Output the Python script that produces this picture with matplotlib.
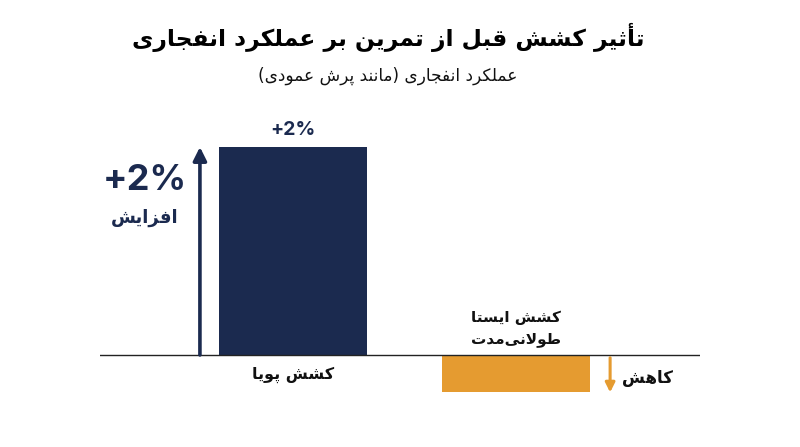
import unicodedata
import matplotlib
matplotlib.use("Agg")
import matplotlib.pyplot as plt

# ---------------- data ----------------
categories = ["کشش پویا", "کشش ایستا\nطولانی‌مدت"]
values = [2.0, -0.36]
value_labels = ["+2%", ""]
title = "تأثیر کشش قبل از تمرین بر عملکرد انفجاری"
subtitle = "عملکرد انفجاری (مانند پرش عمودی)"
increase_value = "+2%"
increase_label = "افزایش"
decrease_label = "کاهش"

NAVY = "#1b2a4f"
ORANGE = "#e59b30"

# ---------------- minimal Arabic/Persian shaping ----------------
RIGHT_JOIN = set("اأإآدذرزژوؤةۀ")


def jtype(c):
    if c in RIGHT_JOIN:
        return "R"
    if "\u0620" <= c <= "\u06FF":
        try:
            unicodedata.lookup(unicodedata.name(c) + " INITIAL FORM")
            return "D"
        except (KeyError, ValueError):
            return "U"
    return "U"


def form(c, f):
    try:
        return unicodedata.lookup(unicodedata.name(c) + " " + f + " FORM")
    except (KeyError, ValueError):
        return c


ALEFS = {"ا": "ALEF", "أ": "ALEF WITH HAMZA ABOVE",
         "إ": "ALEF WITH HAMZA BELOW", "آ": "ALEF WITH MADDA ABOVE"}


def shape_line(s):
    chars = list(s)
    n = len(chars)
    out = []
    i = 0
    while i < n:
        c = chars[i]
        t = jtype(c)
        prev = chars[i - 1] if i > 0 else None
        jp = t in "RD" and prev is not None and jtype(prev) == "D"
        if c == "ل" and i + 1 < n and chars[i + 1] in ALEFS:
            nm = ALEFS[chars[i + 1]]
            out.append(unicodedata.lookup(
                "ARABIC LIGATURE LAM WITH %s %s FORM" % (nm, "FINAL" if jp else "ISOLATED")))
            i += 2
            continue
        if t == "U":
            if c != "\u200c":
                out.append(c)
            i += 1
            continue
        nxt = chars[i + 1] if i + 1 < n else None
        jn = t == "D" and nxt is not None and jtype(nxt) in "RD"
        f = "MEDIAL" if (jp and jn) else "FINAL" if jp else "INITIAL" if jn else "ISOLATED"
        out.append(form(c, f))
        i += 1
    vis = "".join(reversed(out))
    return vis.translate(str.maketrans("()", ")("))


def fa(s):
    return "\n".join(shape_line(l) for l in s.split("\n"))


FA_FONT = ["DejaVu Sans"]
LAT_FONT = ["Inter", "DejaVu Sans"]

# ---------------- figure ----------------
fig = plt.figure(figsize=(8, 4.47), dpi=100)
fig.patch.set_facecolor("white")

# axes: x from px 100 to 700, y from px 110 to 400
ax = fig.add_axes([100 / 800, (447 - 400) / 447, 600 / 800, 290 / 447])
xpos = list(range(len(categories)))
width = 0.664
ax.bar(xpos, values, width=width, color=[NAVY, ORANGE], zorder=2)
ax.set_xlim(-0.865, 1.825)
ax.set_ylim(-0.433, 2.356)
ax.axhline(0, color="#222222", lw=1.0, zorder=3)
ax.axis("off")

# value label above positive bar
for x, v, lab in zip(xpos, values, value_labels):
    if lab:
        ax.annotate(lab, (x, v), xytext=(0, 6), textcoords="offset points",
                    ha="center", va="bottom", fontsize=14, fontweight="bold",
                    color=NAVY, family=LAT_FONT)

# category labels
ax.annotate(fa(categories[0]), (xpos[0], 0), xytext=(0, -8.5), textcoords="offset points",
            ha="center", va="top", fontsize=11.5, fontweight="bold", color="#111111",
            family=FA_FONT)
ax.annotate(fa(categories[1]), (xpos[1], 0), xytext=(0, 6), textcoords="offset points",
            ha="center", va="bottom", fontsize=11, fontweight="bold", color="#111111",
            family=FA_FONT, multialignment="center", linespacing=1.45)

# increase arrow (left of the first bar)
xa = xpos[0] - width / 2 - 0.085
ax.annotate("", xy=(xa, values[0]), xytext=(xa, 0),
            arrowprops=dict(arrowstyle="-|>", lw=2.6, color=NAVY,
                            mutation_scale=20, shrinkA=0, shrinkB=0), zorder=4)
ax.annotate(increase_value, (xa, values[0]), xytext=(-40, -24), textcoords="offset points",
            ha="center", va="center", fontsize=26, fontweight="bold", color=NAVY,
            family=LAT_FONT)
ax.annotate(fa(increase_label), (xa, values[0]), xytext=(-40, -51), textcoords="offset points",
            ha="center", va="center", fontsize=13, fontweight="bold", color=NAVY,
            family=FA_FONT)

# decrease arrow (right of the second bar)
xd = xpos[1] + width / 2 + 0.09
ax.annotate("", xy=(xd, values[1]), xytext=(xd, 0),
            arrowprops=dict(arrowstyle="-|>", lw=2.2, color=ORANGE,
                            mutation_scale=14, shrinkA=2, shrinkB=0), zorder=4)
ax.annotate(fa(decrease_label), (xd, values[1] / 2), xytext=(27, -3), textcoords="offset points",
            ha="center", va="center", fontsize=12, fontweight="bold", color="#111111",
            family=FA_FONT)

# titles
fig.text(388 / 800, 1 - 37 / 447, fa(title), ha="center", va="center",
         fontsize=16.8, fontweight="bold", color="#000000", family=FA_FONT)
fig.text(388 / 800, 1 - 76 / 447, fa(subtitle), ha="center", va="center",
         fontsize=12.2, color="#111111", family=FA_FONT)

fig.savefig("out.png", dpi=100, facecolor="white")
